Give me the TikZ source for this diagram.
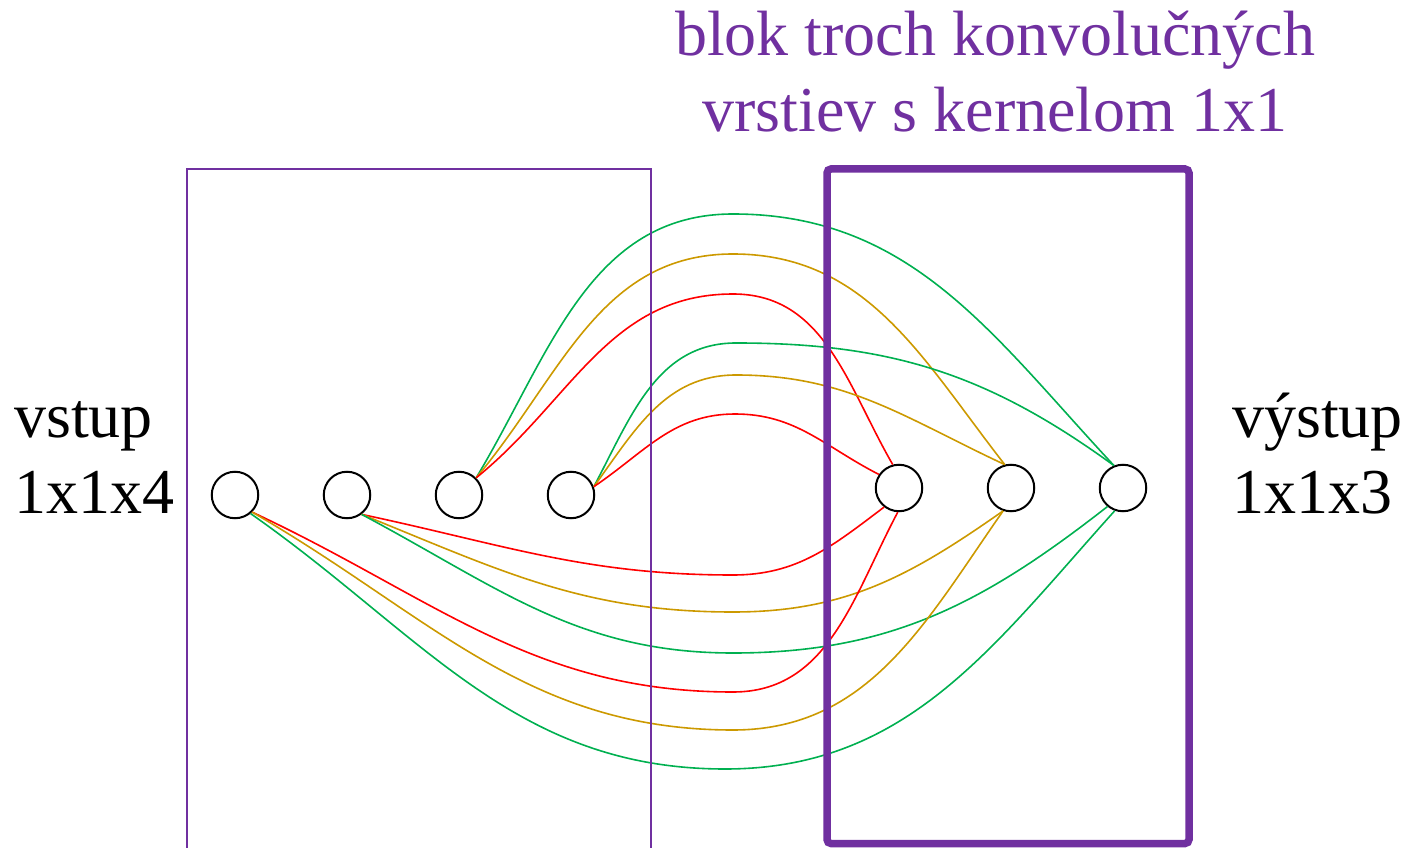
\documentclass[tikz,border=0pt]{standalone}
\usepackage{fontspec}
\setmainfont{Liberation Serif}
\usetikzlibrary{positioning}
\definecolor{fialova}{HTML}{7030A0}
\definecolor{cervena}{HTML}{FF0000}
\definecolor{zlta}{HTML}{CC9900}
\definecolor{zelena}{HTML}{00B050}

\begin{document}
\begin{tikzpicture}[x=1pt,y=1pt,node distance=63.5pt]
\tikzstyle{neuron}=[circle,draw=black,line width=2pt,minimum size=46.5pt,inner sep=0pt]
\tikzstyle{popis}=[align=left,inner sep=0pt,font=\fontsize{64}{76}\selectfont]
\tikzstyle{hrana}=[line width=1.6pt]
\useasboundingbox (0,0) rectangle (1405,847);
% vstupne a vystupne neurony
\node[neuron] (i1) at (235,352) {};
\node[neuron,right=of i1] (i2) {};
\node[neuron,right=of i2] (i3) {};
\node[neuron,right=of i3] (i4) {};
\node[neuron] (o1) at (899,359) {};
\node[neuron,right=of o1] (o2) {};
\node[neuron,right=of o2] (o3) {};
\node[popis,anchor=base west] (vstup) at (14,334) {vstup\\1x1x4};
\node[popis,anchor=base west] (vystup) at (1232,334) {výstup\\1x1x3};
\node[popis,align=center,text=fialova,anchor=base] (blok) at (995,715) {blok troch konvolučných\\vrstiev s kernelom 1x1};
% spojenia
\draw[hrana,zelena] (i3.45) to[out=59,in=180] (733,633) to[out=0,in=133] (o3.112);
\draw[hrana,zlta] (i3.45) to[out=50,in=180] (733,593) to[out=0,in=128] (o2.105);
\draw[hrana,cervena] (i3.45) to[out=39,in=180] (733,553) to[out=0,in=120] (o1.105);
\draw[hrana,zelena] (i4.20) to[out=62,in=180] (736,504) to[out=0,in=144] (o3.112);
\draw[hrana,zlta] (i4.20) to[out=54,in=180] (736,472) to[out=0,in=155] (o2.105);
\draw[hrana,cervena] (i4.20) to[out=34,in=180] (735,433) to[out=0,in=153] (o1.146);
\draw[hrana,cervena] (i2.-53) to[out=-12,in=180] (733,272) to[out=0,in=-143] (o1.-128);
\draw[hrana,zlta] (i2.-53) to[out=-22,in=180] (733,235) to[out=0,in=-145] (o2.-109);
\draw[hrana,zelena] (i2.-53) to[out=-28,in=180] (733,194) to[out=0,in=-142] (o3.-130);
\draw[hrana,cervena] (i1.-45) to[out=-25,in=180] (733,155) to[out=0,in=-118] (o1.-93);
\draw[hrana,zlta] (i1.-45) to[out=-30,in=180] (733,117) to[out=0,in=-125] (o2.-109);
\draw[hrana,zelena] (i1.-50) to[out=-35,in=180] (725,78) to[out=0,in=-132] (o3.-110);
% bloky
\draw[fialova,line width=2pt] (187,-20) rectangle (651,678);
\draw[fialova,line width=7.5pt,rounded corners=4pt] (827,3.5) rectangle (1189,678);
\end{tikzpicture}
\end{document}
